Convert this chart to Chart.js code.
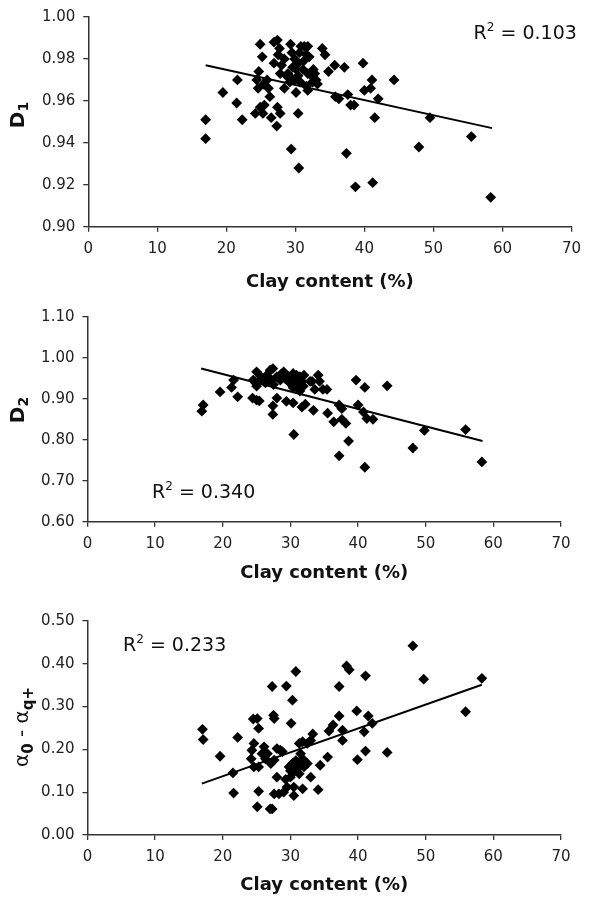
<!DOCTYPE html>
<html>
<head>
<meta charset="utf-8">
<script src="https://cdn.jsdelivr.net/npm/chart.js@4.4.1/dist/chart.umd.min.js"></script>
<style>
  body { margin: 0; background: #fff; }
  .panneau { position: absolute; left: 0; }
</style>
</head>
<body>
<canvas id="graphique-d1" class="panneau" width="589" height="300" style="top:0px"></canvas>
<canvas id="graphique-d2" class="panneau" width="589" height="300" style="top:300px"></canvas>
<canvas id="graphique-alpha" class="panneau" width="589" height="299" style="top:600px"></canvas>
<script>
// Panel 1 : D1 vs clay content
const clay1 = [17.0,17.0,19.5,21.6,21.5,22.3,24.9,25.2,24.7,24.4,
  24.6,25.4,25.9,26.1,26.3,24.2,24.9,25.3,25.5,26.5,
  27.4,27.8,27.3,27.4,26.9,27.7,27.5,26.9,28.0,27.8,
  28.4,28.4,29.3,29.5,29.9,30.4,30.1,30.6,30.8,31.3,
  31.8,31.6,32.0,31.1,30.4,29.9,29.4,28.9,29.2,31.8,
  32.3,32.8,32.5,33.0,33.2,31.6,31.8,30.1,30.4,29.4,
  30.5,33.9,34.3,34.8,35.7,37.1,35.8,36.3,37.6,38.0,
  38.5,37.4,38.7,39.8,40.0,40.9,41.1,41.2,41.5,42.0,
  44.3,47.9,49.5,55.5,58.3,28.7,30.7,31.2,32.6,29.6];
const d1 = [0.951,0.942,0.964,0.970,0.959,0.951,0.987,0.981,0.974,0.970,
  0.966,0.968,0.970,0.966,0.962,0.954,0.957,0.954,0.958,0.952,
  0.957,0.954,0.948,0.989,0.988,0.985,0.982,0.978,0.977,0.973,
  0.980,0.966,0.987,0.983,0.980,0.978,0.975,0.983,0.986,0.986,
  0.986,0.982,0.981,0.975,0.972,0.970,0.971,0.973,0.969,0.973,
  0.972,0.973,0.969,0.970,0.968,0.967,0.965,0.964,0.954,0.937,
  0.928,0.985,0.982,0.974,0.977,0.976,0.962,0.961,0.963,0.958,
  0.958,0.935,0.919,0.978,0.965,0.966,0.970,0.921,0.952,0.961,
  0.970,0.938,0.952,0.943,0.914,0.972,0.969,0.979,0.975,0.976];
const trendX1 = [17.0, 58.5];
const trendY1 = [0.977, 0.947];

// Panel 2 : D2 vs clay content
const clay2 = [16.9,17.1,19.6,21.3,21.6,22.2,24.4,25.0,25.4,24.5,
  25.0,25.0,25.8,26.3,26.5,27.0,27.4,27.2,27.5,28.0,
  28.5,29.0,29.4,29.7,30.2,30.4,30.9,31.4,31.7,31.2,
  30.4,29.9,31.9,31.4,32.9,34.1,34.3,33.6,33.2,28.0,
  27.4,27.4,29.4,30.4,31.7,32.2,33.4,35.5,36.4,37.2,
  37.6,37.6,38.2,30.5,37.2,38.6,39.7,40.0,41.0,41.0,
  40.8,41.3,42.2,34.8,35.4,44.3,48.1,49.8,55.9,58.3,
  26.0,28.6,32.0,24.8,26.8,30.8,25.6,29.2];
const d2 = [0.870,0.885,0.917,0.928,0.946,0.905,0.902,0.897,0.895,0.946,
  0.966,0.931,0.950,0.939,0.958,0.970,0.974,0.946,0.935,0.954,
  0.946,0.966,0.958,0.943,0.954,0.962,0.958,0.954,0.943,0.935,
  0.927,0.939,0.931,0.919,0.943,0.958,0.943,0.923,0.943,0.902,
  0.883,0.862,0.894,0.890,0.880,0.887,0.872,0.865,0.844,0.885,
  0.876,0.850,0.840,0.813,0.761,0.797,0.946,0.885,0.928,0.733,
  0.868,0.852,0.850,0.923,0.923,0.932,0.780,0.823,0.825,0.746,
  0.945,0.960,0.958,0.940,0.953,0.945,0.955,0.950];
const trendX2 = [16.8, 58.4];
const trendY2 = [0.974, 0.797];

// Panel 3 : alpha0 - alphaq+ vs clay content
const clay3 = [17.0,17.1,19.6,21.5,21.6,22.2,24.5,25.1,25.3,24.6,
  24.3,24.2,24.6,25.3,25.8,26.1,26.3,25.3,25.1,27.0,
  27.3,27.3,27.5,27.6,27.1,27.6,28.0,28.5,28.0,27.6,
  28.3,29.0,29.4,30.3,30.1,30.8,29.8,30.3,30.8,31.0,
  30.5,30.0,31.3,31.5,32.0,32.5,31.8,29.5,30.5,30.5,
  31.8,31.3,31.8,32.5,33.0,31.5,33.0,34.1,33.3,34.4,
  35.5,35.7,36.3,37.2,37.2,37.7,37.7,38.3,38.7,39.8,
  39.9,41.1,40.9,41.1,41.5,42.1,44.3,48.1,49.7,55.9,
  58.3,26.6,28.8,29.3,30.0];
const alpha = [0.247,0.223,0.184,0.145,0.098,0.228,0.271,0.272,0.249,0.214,
  0.198,0.178,0.159,0.159,0.190,0.206,0.178,0.102,0.066,0.061,
  0.061,0.347,0.280,0.272,0.167,0.175,0.202,0.198,0.135,0.096,
  0.096,0.100,0.348,0.315,0.261,0.382,0.159,0.167,0.174,0.159,
  0.147,0.135,0.143,0.163,0.159,0.167,0.178,0.112,0.112,0.092,
  0.108,0.214,0.218,0.214,0.221,0.190,0.135,0.106,0.236,0.163,
  0.182,0.243,0.257,0.347,0.278,0.245,0.221,0.395,0.386,0.290,
  0.176,0.372,0.241,0.196,0.278,0.261,0.193,0.442,0.364,0.288,
  0.366,0.190,0.195,0.130,0.150];
const trendX3 = [16.9, 58.3];
const trendY3 = [0.120, 0.351];

const police = "'DejaVu Sans'";

// Textes avec indices / exposants dessinés sur le canvas
const textesPlugin = {
  id: "textes",
  afterDraw(chart, args, opts) {
    const ctx = chart.ctx;
    for (const bloc of opts.blocs) {
      ctx.save();
      ctx.translate(bloc.x, bloc.y);
      if (bloc.rotation) ctx.rotate(bloc.rotation);
      ctx.fillStyle = "#111";
      ctx.textBaseline = "alphabetic";
      let total = 0;
      for (const r of bloc.runs) {
        ctx.font = r.font;
        total += ctx.measureText(r.text).width;
      }
      let x = bloc.centre ? -total / 2 : 0;
      for (const r of bloc.runs) {
        ctx.font = r.font;
        ctx.fillText(r.text, x, r.dy || 0);
        x += ctx.measureText(r.text).width;
      }
      ctx.restore();
    }
  }
};

function points(xs, ys) {
  return xs.map((x, i) => ({ x: x, y: ys[i] }));
}

function r2(valeur, x, y) {
  return {
    x: x, y: y,
    runs: [
      { text: "R", font: "19px " + police },
      { text: "2", font: "12px " + police, dy: -8 },
      { text: " = " + valeur, font: "19px " + police }
    ]
  };
}

function configPanneau(clay, valeurs, trendX, trendY, axeY, zone, blocs) {
  return {
    type: "scatter",
    data: {
      datasets: [
        {
          type: "line",
          data: points(trendX, trendY),
          borderColor: "#000",
          borderWidth: 2,
          pointRadius: 0,
          fill: false
        },
        {
          data: points(clay, valeurs),
          pointStyle: "rectRot",
          pointRadius: 5.4,
          pointBackgroundColor: "#000",
          pointBorderWidth: 0
        }
      ]
    },
    options: {
      responsive: false,
      animation: false,
      layout: { padding: { top: zone.top, right: zone.right, left: 0, bottom: 0 } },
      plugins: {
        legend: { display: false },
        tooltip: { enabled: false },
        textes: { blocs: blocs }
      },
      scales: {
        x: {
          type: "linear",
          min: 0, max: 70,
          ticks: { stepSize: 10, padding: 8, color: "#222", font: { family: police, size: 15 } },
          grid: { drawOnChartArea: false, drawTicks: true, tickLength: 5, color: "#333", lineWidth: 1.3 },
          border: { color: "#333", width: 1.5 },
          title: {
            display: true,
            text: "Clay content (%)",
            color: "#111",
            font: { family: police, size: 18, weight: "bold" },
            padding: { top: 0, bottom: zone.titrePad }
          },
          afterFit: scale => { scale.height = zone.hauteurX; }
        },
        y: {
          min: axeY.min, max: axeY.max,
          ticks: {
            stepSize: axeY.pas, padding: 8, color: "#222",
            font: { family: police, size: 15 },
            callback: v => v.toFixed(2)
          },
          grid: { drawOnChartArea: false, drawTicks: true, tickLength: 5, color: "#333", lineWidth: 1.3 },
          border: { color: "#333", width: 1.5 },
          afterFit: scale => { scale.width = zone.gauche; }
        }
      }
    },
    plugins: [textesPlugin]
  };
}

const gras = size => "bold " + size + "px " + police;
const normal = size => size + "px " + police;

new Chart(document.querySelector("#graphique-d1"), configPanneau(
  clay1, d1, trendX1, trendY1,
  { min: 0.90, max: 1.00, pas: 0.02 },
  { top: 15, right: 12.3, gauche: 88.3, hauteurX: 73.3, titrePad: 7 },
  [
    { x: 24, y: 115, rotation: -Math.PI / 2, centre: true,
      runs: [{ text: "D", font: gras(20) }, { text: "1", font: gras(14), dy: 4 }] },
    r2("0.103", 473.6, 39)
  ]
));

new Chart(document.querySelector("#graphique-d2"), configPanneau(
  clay2, d2, trendX2, trendY2,
  { min: 0.60, max: 1.10, pas: 0.1 },
  { top: 10.5, right: 28, gauche: 87.5, hauteurX: 78.3, titrePad: 16 },
  [
    { x: 24, y: 110, rotation: -Math.PI / 2, centre: true,
      runs: [{ text: "D", font: gras(20) }, { text: "2", font: gras(14), dy: 4 }] },
    r2("0.340", 152, 197.5)
  ]
));

new Chart(document.querySelector("#graphique-alpha"), configPanneau(
  clay3, alpha, trendX3, trendY3,
  { min: 0, max: 0.50, pas: 0.1 },
  { top: 21, right: 28, gauche: 87.5, hauteurX: 64, titrePad: 3 },
  [
    { x: 28, y: 127, rotation: -Math.PI / 2, centre: true,
      runs: [
        { text: "α", font: normal(20) },
        { text: "0", font: gras(15), dy: 5 },
        { text: " - ", font: normal(20) },
        { text: "α", font: normal(20) },
        { text: "q+", font: gras(15), dy: 5 }
      ] },
    r2("0.233", 123, 50.5)
  ]
));
</script>
</body>
</html>
